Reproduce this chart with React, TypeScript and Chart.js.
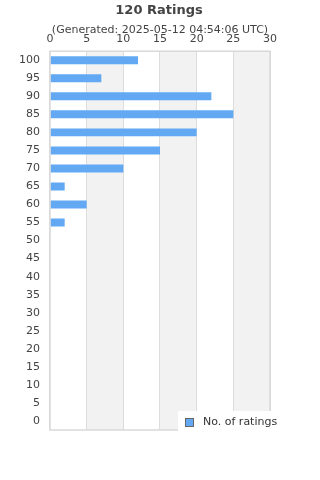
import React, { useEffect, useRef } from "react";
import { Chart, registerables } from "chart.js";

Chart.register(...registerables);

const categories = ["100", "95", "90", "85", "80", "75", "70", "65", "60", "55", "50", "45", "40", "35", "30", "25", "20", "15", "10", "5", "0"];
const ratingCounts = [12, 7, 22, 25, 20, 15, 10, 2, 5, 2, 0, 0, 0, 0, 0, 0, 0, 0, 0, 0, 0];
const seriesLabel = "No. of ratings";
const titleText = "120 Ratings";
const subtitleText = "(Generated: 2025-05-12 04:54:06 UTC)";
const bandRanges = [[5, 10], [15, 20], [25, 30]];

const BAR = "#62a8f3";
const FONT = "'DejaVu Sans', sans-serif";

const bandsPlugin = {
  id: "bands",
  beforeDraw(chart: any) {
    const { ctx, chartArea, scales } = chart;
    const x = scales.x;
    ctx.save();
    ctx.fillStyle = "#f2f2f2";
    for (const [a, b] of bandRanges) {
      const x1 = x.getPixelForValue(a);
      const x2 = x.getPixelForValue(b);
      ctx.fillRect(x1, chartArea.top, x2 - x1, chartArea.bottom - chartArea.top);
    }
    ctx.restore();
  },
  afterDraw(chart: any) {
    const { ctx, chartArea, width } = chart;
    ctx.save();
    ctx.strokeStyle = "#d9d9d9";
    ctx.lineWidth = 1.5;
    ctx.strokeRect(chartArea.left, chartArea.top, chartArea.right - chartArea.left, chartArea.bottom - chartArea.top);
    // titles
    ctx.fillStyle = "#444";
    ctx.textAlign = "center";
    ctx.textBaseline = "middle";
    ctx.font = "bold 13px " + FONT;
    ctx.fillText(titleText, width / 2 - 1, 11);
    ctx.font = "11px " + FONT;
    ctx.fillText(subtitleText, width / 2, 30);
    // legend box inside bottom-right
    const lx = 178, ly = chartArea.bottom - 19, lw = 106, lh = 21;
    ctx.fillStyle = "#ffffff";
    ctx.fillRect(lx, ly, lw, lh);
    ctx.fillStyle = BAR;
    ctx.fillRect(lx + 8, ly + 8, 7, 7);
    ctx.strokeStyle = "#666";
    ctx.lineWidth = 1;
    ctx.strokeRect(lx + 7.5, ly + 7.5, 8, 8);
    ctx.fillStyle = "#333";
    ctx.font = "11px " + FONT;
    ctx.textBaseline = "middle";
    ctx.textAlign = "left";
    ctx.fillText(seriesLabel, lx + 25, ly + 11);
    ctx.restore();
  },
};

export default function App() {
  const ref = useRef<HTMLCanvasElement>(null);
  useEffect(() => {
    document.body.style.margin = "0";
    const chart = new Chart(ref.current!, {
      type: "bar",
      data: {
        labels: categories,
        datasets: [
          {
            label: seriesLabel,
            data: ratingCounts,
            backgroundColor: BAR,
            barPercentage: 0.88,
            categoryPercentage: 0.5,
          },
        ],
      },
      options: {
        indexAxis: "y",
        animation: false,
        responsive: false,
        layout: { padding: { left: 9, right: 50, bottom: 50, top: 28 } },
        plugins: {
          legend: { display: false },
          tooltip: { enabled: false },
          title: { display: false },
        },
        scales: {
          x: {
            position: "top",
            min: 0,
            max: 30,
            ticks: { stepSize: 5, color: "#444", font: { family: FONT, size: 11 }, padding: 5 },
            grid: { color: "#dddddd", drawTicks: false },
            border: { display: false },
          },
          y: {
            ticks: { color: "#444", font: { family: FONT, size: 11 }, padding: 10, autoSkip: false },
            grid: { display: false, drawTicks: false },
            border: { display: false },
          },
        },
      },
      plugins: [bandsPlugin],
    });
    return () => chart.destroy();
  }, []);
  return <canvas ref={ref} width={320} height={480} style={{ display: "block" }} />;
}
